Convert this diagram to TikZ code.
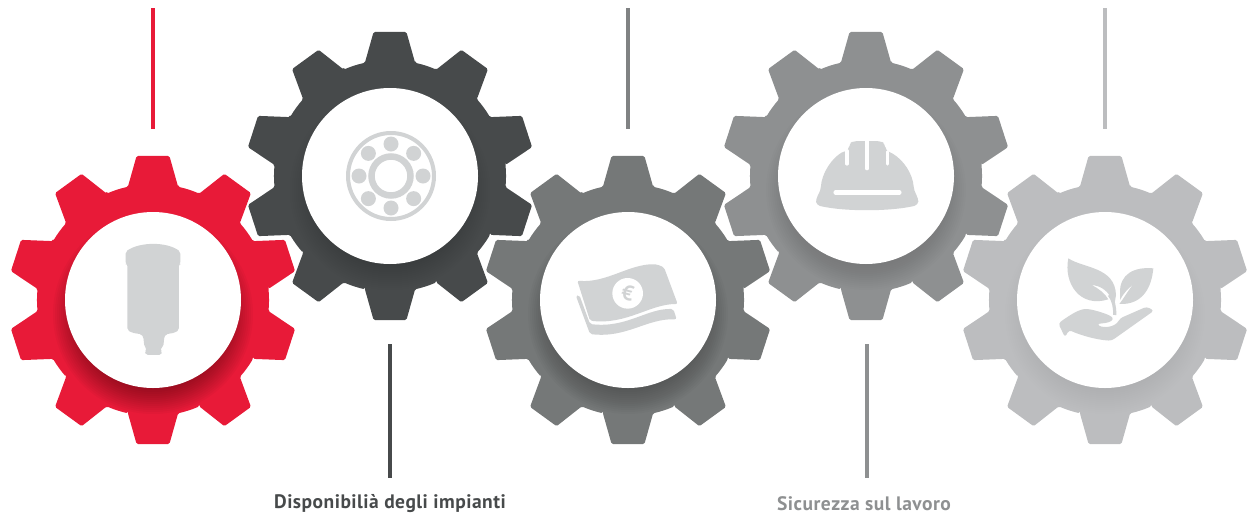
\documentclass[tikz,border=0pt]{standalone}
\usepackage{fontspec}
\setmainfont{PT Sans}
\usetikzlibrary{positioning}

\definecolor{gearred}{HTML}{E81A38}
\definecolor{geardark}{HTML}{474A4B}
\definecolor{geargray}{HTML}{757878}
\definecolor{gearmid}{HTML}{8E9091}
\definecolor{gearlight}{HTML}{BCBDBF}
\definecolor{iconfill}{HTML}{D1D3D4}

\tikzset{
	hub/.style={circle,fill=white,inner sep=0pt,minimum size=176pt},
	stemline/.style={line width=4pt},
	caption/.style={font=\fontsize{19.5}{21}\selectfont\bfseries\addfontfeatures{LetterSpace=2.5},inner sep=0pt},
	icon/.style={fill=iconfill,draw=none},
	zoomed/.style={x=0.3333pt,y=-0.3333pt},
}

% teeth, then the shadow under the hub, then the hub
\newcommand{\drawgear}[4]{
	\fill[#2,rounded corners=1.5pt,shift={(#1)}] (5.5:116)
		\foreach \a in {18,54,...,342} {
			-- (\a-12.5:116) -- (\a-6.5:145) -- (\a+6.5:145) -- (\a+12.5:116)
			arc[start angle=\a+12.5,end angle=\a+23.5,radius=116]
		} -- cycle;
	\foreach \r in {100,98,...,74}
		\fill[black,opacity=#4,shift={(#1)}] (0,-14) circle (\r);
	\node (#3) at (#1) [hub] {};
}

\begin{document}
\begin{tikzpicture}[x=1pt,y=1pt]

	\useasboundingbox (0,0) rectangle (1255,-517);

	\coordinate (RedCentre) at (153,-300);
	\coordinate (DarkCentre) at (390,-176);
	\coordinate (GrayCentre) at (628,-300);
	\coordinate (MidCentre) at (866,-176);
	\coordinate (LightCentre) at (1105,-300);

	\drawgear{DarkCentre}{geardark}{BearingHub}{0.012}
	\drawgear{MidCentre}{gearmid}{HelmetHub}{0.008}
	\drawgear{RedCentre}{gearred}{CartridgeHub}{0.026}
	\drawgear{GrayCentre}{geargray}{MoneyHub}{0.018}
	\drawgear{LightCentre}{gearlight}{PlantHub}{0.003}

	\coordinate (RedTop) at (153,-8);
	\coordinate (RedEnd) at (153,-129);
	\coordinate (GrayTop) at (628,-8);
	\coordinate (GrayEnd) at (628,-129);
	\coordinate (LightTop) at (1105,-8);
	\coordinate (LightEnd) at (1105,-129);
	\coordinate (DarkTop) at (390,-344);
	\coordinate (DarkEnd) at (390,-478);
	\coordinate (MidTop) at (867,-344);
	\coordinate (MidEnd) at (867,-478);

	\draw [stemline,gearred] (RedTop) -- (RedEnd);
	\draw [stemline,gearmid!90!black] (GrayTop) -- (GrayEnd);
	\draw [stemline,gearlight] (LightTop) -- (LightEnd);
	\draw [stemline,geardark] (DarkTop) -- (DarkEnd);
	\draw [stemline,gearmid] (MidTop) -- (MidEnd);

	\node (DarkLabel) at (390,-504) [caption,text=geardark] {Disponibilià degli impianti};
	\node (MidLabel) at (864,-504) [caption,text=gearmid] {Sicurezza sul lavoro};

	% cartridge
	\begin{scope}[shift={(0,-140)},zoomed]
		\fill[icon,rounded corners=2pt] (377,335) .. controls (420,305) and (500,305) .. (541,335)
			-- (541,372) -- (537,372) -- (537,570) -- (525,578) -- (497,583) -- (493,590) -- (490,620)
			-- (480,628) -- (487,634) -- (484,645) -- (438,645) -- (433,634) -- (441,628) -- (433,620)
			-- (430,590) -- (425,583) -- (395,578) -- (382,570) -- (382,372) -- (377,372) -- cycle;
	\end{scope}

	% bearing
	\draw[iconfill,line width=4pt] (BearingHub) ++(1,0) circle (43);
	\draw[iconfill,line width=6.5pt] (BearingHub) ++(1,0) circle (19.5);
	\foreach \a in {0,45,...,315}
		\fill[icon] (BearingHub) ++(1,0) ++(\a:32) circle (7.5);

	% banknotes
	\begin{scope}[shift={(540,-230)},zoomed]
		\fill[icon,rounded corners=2pt] (112,152) .. controls (200,160) and (270,100) .. (350,103)
			-- (372,112) -- (413,222) .. controls (330,222) and (260,285) .. (150,272) -- cycle;
		\fill[icon,rounded corners=2pt] (108,198) -- (118,195) -- (150,282)
			.. controls (260,295) and (320,235) .. (400,237) -- (410,268)
			.. controls (320,265) and (260,325) .. (150,312) -- cycle;
		\fill[white] (263,190) circle (46);
		\node (EuroSign) at (263,190) [rotate=-15,inner sep=0pt,text=iconfill,font=\fontsize{21}{21}\selectfont\bfseries] {€};
	\end{scope}

	% helmet
	\begin{scope}[shift={(790,-120)},zoomed]
		\fill[icon,rounded corners=4pt] (78,255) -- (78,235) -- (92,212) .. controls (95,160) and (125,115) .. (165,92)
			-- (177,92) -- (177,72) -- (190,63) -- (272,63) -- (286,72) -- (286,92) -- (298,95)
			.. controls (340,120) and (368,160) .. (372,212) -- (385,235) -- (385,255)
			.. controls (300,275) and (160,275) .. cycle;
		\draw[white,line width=3.2pt,line cap=round] (171,92) -- (171,132);
		\draw[white,line width=3.2pt,line cap=round] (231,55) -- (231,146);
		\draw[white,line width=3.2pt,line cap=round] (292,95) -- (292,132);
		\draw[white,line width=4.5pt,line cap=round] (137,217) -- (328,217);
	\end{scope}

	% plant on a hand
	\begin{scope}[shift={(1040,-240)},zoomed]
		\fill[icon] (85,55) .. controls (130,85) and (225,80) .. (228,165) -- (224,190) -- (212,172)
			.. controls (200,150) and (180,137) .. (155,135) .. controls (175,145) and (195,160) .. (205,178)
			.. controls (120,205) and (70,130) .. cycle;
		\fill[icon] (340,85) .. controls (285,80) and (238,100) .. (240,160) -- (240,180)
			.. controls (250,160) and (265,145) .. (280,133) .. controls (265,150) and (255,170) .. (238,192)
			.. controls (310,195) and (335,140) .. cycle;
		\draw[iconfill,line width=3.2pt] (208,165) .. controls (220,180) and (225,200) .. (224,225);
		\fill[icon,rounded corners=3pt] (55,250) .. controls (90,225) and (120,205) .. (150,208)
			.. controls (180,215) and (210,225) .. (222,238) -- (205,248) -- (170,252) .. controls (190,265) and (225,262) .. (240,235)
			-- (320,200) -- (342,212) -- (215,302) .. controls (170,300) and (120,285) .. (87,270) -- (75,292) -- cycle;
	\end{scope}

\end{tikzpicture}
\end{document}
